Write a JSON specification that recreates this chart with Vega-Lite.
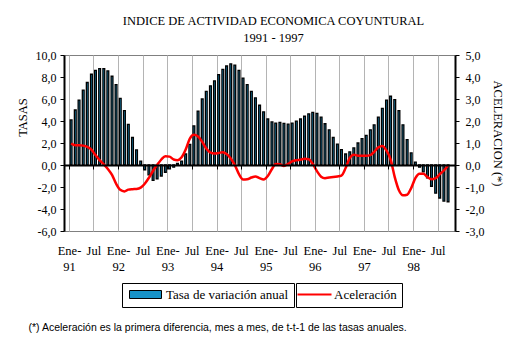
{
  "$schema": "https://vega.github.io/schema/vega-lite/v6.json",
  "width": 391,
  "height": 176,
  "autosize": {"type": "none"},
  "padding": {"left": 64, "top": 55, "right": 66, "bottom": 122},
  "background": "white",
  "config": {
    "locale": {"number": {"decimal": ",", "thousands": ".", "grouping": [3], "currency": ["", " €"], "minus": "-"}},
    "view": {"stroke": "#808080", "strokeWidth": 1},
    "font": "Liberation Serif",
    "axis": {"labelFont": "Liberation Serif", "titleFont": "Liberation Serif", "labelColor": "black", "titleColor": "black", "titleFontWeight": "normal"},
    "legend": {"labelFont": "Liberation Serif", "labelFontSize": 13, "labelColor": "black"}
  },
  "title": {
    "text": "INDICE DE ACTIVIDAD ECONOMICA COYUNTURAL",
    "subtitle": "1991 - 1997",
    "font": "Liberation Serif",
    "fontSize": 12.5,
    "fontWeight": "normal",
    "color": "black",
    "subtitleFont": "Liberation Serif",
    "subtitleFontSize": 12.5,
    "subtitleColor": "black",
    "subtitlePadding": 4,
    "anchor": "middle",
    "dx": 14,
    "offset": 5
  },
  "data": {"values": [
    {"fecha": "1991-01-01", "tasa": 4.1, "aceleracion": 0.97},
    {"fecha": "1991-02-01", "tasa": 5.0, "aceleracion": 0.9},
    {"fecha": "1991-03-01", "tasa": 5.9, "aceleracion": 0.9},
    {"fecha": "1991-04-01", "tasa": 6.8, "aceleracion": 0.88},
    {"fecha": "1991-05-01", "tasa": 7.5, "aceleracion": 0.82},
    {"fecha": "1991-06-01", "tasa": 8.25, "aceleracion": 0.7},
    {"fecha": "1991-07-01", "tasa": 8.6, "aceleracion": 0.45},
    {"fecha": "1991-08-01", "tasa": 8.77, "aceleracion": 0.22},
    {"fecha": "1991-09-01", "tasa": 8.77, "aceleracion": 0.03},
    {"fecha": "1991-10-01", "tasa": 8.55, "aceleracion": -0.18},
    {"fecha": "1991-11-01", "tasa": 8.07, "aceleracion": -0.45},
    {"fecha": "1991-12-01", "tasa": 7.3, "aceleracion": -0.85},
    {"fecha": "1992-01-01", "tasa": 6.05, "aceleracion": -1.13},
    {"fecha": "1992-02-01", "tasa": 4.95, "aceleracion": -1.2},
    {"fecha": "1992-03-01", "tasa": 3.7, "aceleracion": -1.12},
    {"fecha": "1992-04-01", "tasa": 2.5, "aceleracion": -1.1},
    {"fecha": "1992-05-01", "tasa": 1.37, "aceleracion": -1.09},
    {"fecha": "1992-06-01", "tasa": 0.35, "aceleracion": -1.03},
    {"fecha": "1992-07-01", "tasa": -0.43, "aceleracion": -0.85},
    {"fecha": "1992-08-01", "tasa": -0.9, "aceleracion": -0.58},
    {"fecha": "1992-09-01", "tasa": -1.4, "aceleracion": -0.26},
    {"fecha": "1992-10-01", "tasa": -1.27, "aceleracion": 0.0},
    {"fecha": "1992-11-01", "tasa": -1.0, "aceleracion": 0.25},
    {"fecha": "1992-12-01", "tasa": -0.66, "aceleracion": 0.4},
    {"fecha": "1993-01-01", "tasa": -0.36, "aceleracion": 0.38},
    {"fecha": "1993-02-01", "tasa": -0.2, "aceleracion": 0.25},
    {"fecha": "1993-03-01", "tasa": 0.15, "aceleracion": 0.22},
    {"fecha": "1993-04-01", "tasa": 0.36, "aceleracion": 0.35},
    {"fecha": "1993-05-01", "tasa": 1.0, "aceleracion": 0.7},
    {"fecha": "1993-06-01", "tasa": 1.88, "aceleracion": 1.2},
    {"fecha": "1993-07-01", "tasa": 3.55, "aceleracion": 1.37},
    {"fecha": "1993-08-01", "tasa": 4.9, "aceleracion": 1.3},
    {"fecha": "1993-09-01", "tasa": 6.0, "aceleracion": 1.05},
    {"fecha": "1993-10-01", "tasa": 6.7, "aceleracion": 0.75},
    {"fecha": "1993-11-01", "tasa": 7.2, "aceleracion": 0.56},
    {"fecha": "1993-12-01", "tasa": 7.65, "aceleracion": 0.52},
    {"fecha": "1994-01-01", "tasa": 8.22, "aceleracion": 0.55},
    {"fecha": "1994-02-01", "tasa": 8.7, "aceleracion": 0.58},
    {"fecha": "1994-03-01", "tasa": 9.0, "aceleracion": 0.5},
    {"fecha": "1994-04-01", "tasa": 9.2, "aceleracion": 0.3},
    {"fecha": "1994-05-01", "tasa": 9.08, "aceleracion": 0.0},
    {"fecha": "1994-06-01", "tasa": 8.6, "aceleracion": -0.42},
    {"fecha": "1994-07-01", "tasa": 7.9, "aceleracion": -0.66},
    {"fecha": "1994-08-01", "tasa": 7.3, "aceleracion": -0.65},
    {"fecha": "1994-09-01", "tasa": 6.7, "aceleracion": -0.57},
    {"fecha": "1994-10-01", "tasa": 6.1, "aceleracion": -0.52},
    {"fecha": "1994-11-01", "tasa": 5.43, "aceleracion": -0.6},
    {"fecha": "1994-12-01", "tasa": 4.83, "aceleracion": -0.66},
    {"fecha": "1995-01-01", "tasa": 4.18, "aceleracion": -0.5},
    {"fecha": "1995-02-01", "tasa": 3.92, "aceleracion": -0.18},
    {"fecha": "1995-03-01", "tasa": 3.8, "aceleracion": 0.05},
    {"fecha": "1995-04-01", "tasa": 3.88, "aceleracion": 0.03},
    {"fecha": "1995-05-01", "tasa": 3.78, "aceleracion": -0.04},
    {"fecha": "1995-06-01", "tasa": 3.72, "aceleracion": 0.05},
    {"fecha": "1995-07-01", "tasa": 3.8, "aceleracion": 0.17},
    {"fecha": "1995-08-01", "tasa": 3.98, "aceleracion": 0.22},
    {"fecha": "1995-09-01", "tasa": 4.18, "aceleracion": 0.24},
    {"fecha": "1995-10-01", "tasa": 4.43, "aceleracion": 0.28},
    {"fecha": "1995-11-01", "tasa": 4.65, "aceleracion": 0.26},
    {"fecha": "1995-12-01", "tasa": 4.78, "aceleracion": 0.05},
    {"fecha": "1996-01-01", "tasa": 4.7, "aceleracion": -0.28},
    {"fecha": "1996-02-01", "tasa": 4.35, "aceleracion": -0.53},
    {"fecha": "1996-03-01", "tasa": 3.75, "aceleracion": -0.6},
    {"fecha": "1996-04-01", "tasa": 3.2, "aceleracion": -0.57},
    {"fecha": "1996-05-01", "tasa": 2.5, "aceleracion": -0.55},
    {"fecha": "1996-06-01", "tasa": 1.9, "aceleracion": -0.52},
    {"fecha": "1996-07-01", "tasa": 1.4, "aceleracion": -0.48},
    {"fecha": "1996-08-01", "tasa": 1.0, "aceleracion": -0.14},
    {"fecha": "1996-09-01", "tasa": 1.2, "aceleracion": 0.32},
    {"fecha": "1996-10-01", "tasa": 1.55, "aceleracion": 0.47},
    {"fecha": "1996-11-01", "tasa": 2.0, "aceleracion": 0.42},
    {"fecha": "1996-12-01", "tasa": 2.4, "aceleracion": 0.42},
    {"fecha": "1997-01-01", "tasa": 2.7, "aceleracion": 0.42},
    {"fecha": "1997-02-01", "tasa": 3.2, "aceleracion": 0.45},
    {"fecha": "1997-03-01", "tasa": 3.65, "aceleracion": 0.6},
    {"fecha": "1997-04-01", "tasa": 4.35, "aceleracion": 0.8},
    {"fecha": "1997-05-01", "tasa": 5.15, "aceleracion": 0.86},
    {"fecha": "1997-06-01", "tasa": 5.9, "aceleracion": 0.65},
    {"fecha": "1997-07-01", "tasa": 6.25, "aceleracion": 0.25},
    {"fecha": "1997-08-01", "tasa": 5.95, "aceleracion": -0.55},
    {"fecha": "1997-09-01", "tasa": 4.95, "aceleracion": -1.15},
    {"fecha": "1997-10-01", "tasa": 3.65, "aceleracion": -1.38},
    {"fecha": "1997-11-01", "tasa": 2.3, "aceleracion": -1.35},
    {"fecha": "1997-12-01", "tasa": 1.1, "aceleracion": -1.05},
    {"fecha": "1998-01-01", "tasa": 0.27, "aceleracion": -0.6},
    {"fecha": "1998-02-01", "tasa": -0.2, "aceleracion": -0.4},
    {"fecha": "1998-03-01", "tasa": -0.63, "aceleracion": -0.4},
    {"fecha": "1998-04-01", "tasa": -1.17, "aceleracion": -0.55},
    {"fecha": "1998-05-01", "tasa": -1.93, "aceleracion": -0.65},
    {"fecha": "1998-06-01", "tasa": -2.56, "aceleracion": -0.6},
    {"fecha": "1998-07-01", "tasa": -3.0, "aceleracion": -0.42},
    {"fecha": "1998-08-01", "tasa": -3.28, "aceleracion": -0.25},
    {"fecha": "1998-09-01", "tasa": -3.34, "aceleracion": -0.02}
  ]},
  "layer": [
    {
      "mark": {"type": "bar", "width": 1.8, "stroke": "black", "strokeWidth": 1.3, "xOffset": 2.1},
      "encoding": {
        "x": {
          "field": "fecha", "type": "temporal",
          "scale": {"type": "utc", "domain": [{"year": 1991, "month": 1, "date": 1, "utc": true}, {"year": 1998, "month": 10, "date": 1, "utc": true}]},
          "axis": {
            "values": [
              {"year": 1991, "month": 1, "date": 1, "utc": true}, {"year": 1991, "month": 7, "date": 1, "utc": true},
              {"year": 1992, "month": 1, "date": 1, "utc": true}, {"year": 1992, "month": 7, "date": 1, "utc": true},
              {"year": 1993, "month": 1, "date": 1, "utc": true}, {"year": 1993, "month": 7, "date": 1, "utc": true},
              {"year": 1994, "month": 1, "date": 1, "utc": true}, {"year": 1994, "month": 7, "date": 1, "utc": true},
              {"year": 1995, "month": 1, "date": 1, "utc": true}, {"year": 1995, "month": 7, "date": 1, "utc": true},
              {"year": 1996, "month": 1, "date": 1, "utc": true}, {"year": 1996, "month": 7, "date": 1, "utc": true},
              {"year": 1997, "month": 1, "date": 1, "utc": true}, {"year": 1997, "month": 7, "date": 1, "utc": true},
              {"year": 1998, "month": 1, "date": 1, "utc": true}, {"year": 1998, "month": 7, "date": 1, "utc": true}
            ],
            "labelExpr": "utcmonth(datum.value) == 0 ? ['Ene-', utcFormat(datum.value, '%y')] : 'Jul'",
            "labelFont": "Liberation Serif",
            "labelFontSize": 12.5,
            "labelPadding": 13,
            "labelLineHeight": 16.5,
            "labelFlush": false,
            "labelOverlap": false,
            "ticks": false,
            "tickSize": 0,
            "domain": false,
            "grid": true,
            "gridColor": "#b4b4b4",
            "gridWidth": 1,
            "title": "(*) Aceleración es la primera diferencia, mes a mes, de t-t-1 de las tasas anuales.",
            "titleFont": "Liberation Sans Narrow, Liberation Sans",
            "titleFontSize": 10.5,
            "titleX": -36,
            "titleY": 96,
            "titleAlign": "left",
            "titleAnchor": "start",
            "titleBaseline": "middle",
            "zindex": 0
          }
        },
        "y": {
          "field": "tasa", "type": "quantitative",
          "scale": {"domain": [-6, 10], "nice": false},
          "axis": {
            "orient": "left",
            "values": [-6, -4, -2, 0, 2, 4, 6, 8, 10],
            "format": ".1f",
            "grid": false,
            "domainColor": "black",
            "domainWidth": 2,
            "tickColor": "black",
            "tickSize": 4,
            "labelPadding": 4,
            "labelFont": "Liberation Serif",
            "labelFontSize": 12,
            "title": "TASAS",
            "titleFont": "Liberation Serif",
            "titleFontSize": 12.5,
            "titleX": -42,
            "titleY": 62,
            "titleAlign": "center",
            "titleBaseline": "middle",
            "zindex": 1
          }
        },
        "fill": {
          "datum": "Tasa de variación anual", "type": "nominal",
          "scale": {"range": ["#1692C8"]},
          "legend": {
            "orient": "none",
            "legendX": 58,
            "legendY": 228,
            "title": null,
            "symbolType": "M-1,-1H7V1H-1Z",
            "symbolSize": 64,
            "symbolStrokeColor": "black",
            "symbolStrokeWidth": 1,
            "symbolOpacity": 1,
            "labelOffset": 26,
            "padding": 5,
            "strokeColor": "black",
            "fillColor": "white"
          }
        }
      }
    },
    {
      "mark": {"type": "line", "interpolate": "monotone", "strokeWidth": 2.5, "xOffset": 2.1},
      "encoding": {
        "x": {
          "field": "fecha", "type": "temporal",
          "axis": {
            "orient": "bottom",
            "offset": -66,
            "values": [
              {"year": 1991, "month": 1, "date": 1, "utc": true}, {"year": 1991, "month": 7, "date": 1, "utc": true},
              {"year": 1992, "month": 1, "date": 1, "utc": true}, {"year": 1992, "month": 7, "date": 1, "utc": true},
              {"year": 1993, "month": 1, "date": 1, "utc": true}, {"year": 1993, "month": 7, "date": 1, "utc": true},
              {"year": 1994, "month": 1, "date": 1, "utc": true}, {"year": 1994, "month": 7, "date": 1, "utc": true},
              {"year": 1995, "month": 1, "date": 1, "utc": true}, {"year": 1995, "month": 7, "date": 1, "utc": true},
              {"year": 1996, "month": 1, "date": 1, "utc": true}, {"year": 1996, "month": 7, "date": 1, "utc": true},
              {"year": 1997, "month": 1, "date": 1, "utc": true}, {"year": 1997, "month": 7, "date": 1, "utc": true},
              {"year": 1998, "month": 1, "date": 1, "utc": true}, {"year": 1998, "month": 7, "date": 1, "utc": true}
            ],
            "labels": false,
            "grid": false,
            "ticks": true,
            "tickSize": 4,
            "tickColor": "black",
            "domain": true,
            "domainColor": "black",
            "domainWidth": 2,
            "title": null,
            "zindex": 1
          }
        },
        "y": {
          "field": "aceleracion", "type": "quantitative",
          "scale": {"domain": [-3, 5], "nice": false},
          "axis": {
            "orient": "right",
            "values": [-3, -2, -1, 0, 1, 2, 3, 4, 5],
            "format": ".1f",
            "grid": false,
            "domainColor": "black",
            "domainWidth": 2,
            "tickColor": "black",
            "tickSize": 4,
            "labelPadding": 6,
            "labelFont": "Liberation Serif",
            "labelFontSize": 12,
            "title": "ACELERACION (*)",
            "titleFont": "Liberation Serif",
            "titleFontSize": 12.5,
            "titleAngle": 90,
            "titleX": 42,
            "titleY": 78,
            "titleAlign": "center",
            "titleBaseline": "middle",
            "zindex": 1
          }
        },
        "stroke": {
          "datum": "Aceleración", "type": "nominal",
          "scale": {"range": ["#FF0000"]},
          "legend": {
            "orient": "none",
            "legendX": 232,
            "legendY": 228,
            "title": null,
            "symbolType": "M-2.5,0H6",
            "symbolSize": 64,
            "symbolStrokeWidth": 2,
            "symbolFillColor": "transparent",
            "symbolOpacity": 1,
            "labelOffset": 20,
            "padding": 5,
            "strokeColor": "black",
            "fillColor": "white"
          }
        }
      }
    }
  ],
  "resolve": {"scale": {"y": "independent"}, "axis": {"x": "independent", "y": "independent"}}
}
